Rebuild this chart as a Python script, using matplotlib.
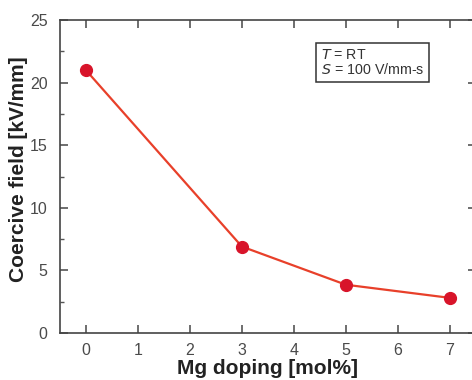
import matplotlib
matplotlib.use("Agg")
import matplotlib.pyplot as plt
from matplotlib.ticker import MultipleLocator

mg_doping = [0, 3, 5, 7]
coercive_field = [21.0, 6.9, 3.85, 2.8]
x_ticks = [0, 1, 2, 3, 4, 5, 6, 7]
y_ticks = [0, 5, 10, 15, 20, 25]

plt.rcParams['font.family'] = ['Liberation Sans', 'DejaVu Sans']

fig = plt.figure(figsize=(4.72, 3.8), dpi=100)
ax = fig.add_axes([0.127, 0.124, 0.881, 0.823])

ax.plot(mg_doping, coercive_field, color='#e8402a', lw=1.6, zorder=2)
ax.plot(mg_doping, coercive_field, 'o', color='#d8142a', ms=8.5, zorder=3)

ax.set_xlim(-0.5, 7.5)
ax.set_ylim(0, 25)
ax.set_xticks(x_ticks)
ax.set_yticks(y_ticks)
ax.yaxis.set_minor_locator(MultipleLocator(2.5))
ax.tick_params(which='both', direction='in', top=True, right=True, labelsize=11.5,
               labelcolor='#4a4a4a', color='#555555')
ax.tick_params(which='major', length=6, width=1.2)
ax.tick_params(axis='x', which='major', pad=7)
ax.tick_params(axis='y', which='major', pad=9)
ax.tick_params(which='minor', length=3, width=1.0)
for s in ax.spines.values():
    s.set_linewidth(1.2)
    s.set_color('#444444')

ax.set_xlabel('Mg doping [mol%]', fontsize=15, fontweight='bold', labelpad=1, color='#222222')
ax.set_ylabel('Coercive field [kV/mm]', fontsize=15, fontweight='bold', labelpad=3, color='#222222')
ax.yaxis.set_label_coords(-0.076, 0.525)

ax.text(0.627, 0.912, '$T$ = RT\n$S$ = 100 V/mm-s', transform=ax.transAxes,
        fontsize=10.3, va='top', ha='left', color='#333333', linespacing=1.05,
        bbox=dict(boxstyle='square,pad=0.35', fc='white', ec='#333333', lw=1.1))

fig.savefig('out.png', dpi=100)
